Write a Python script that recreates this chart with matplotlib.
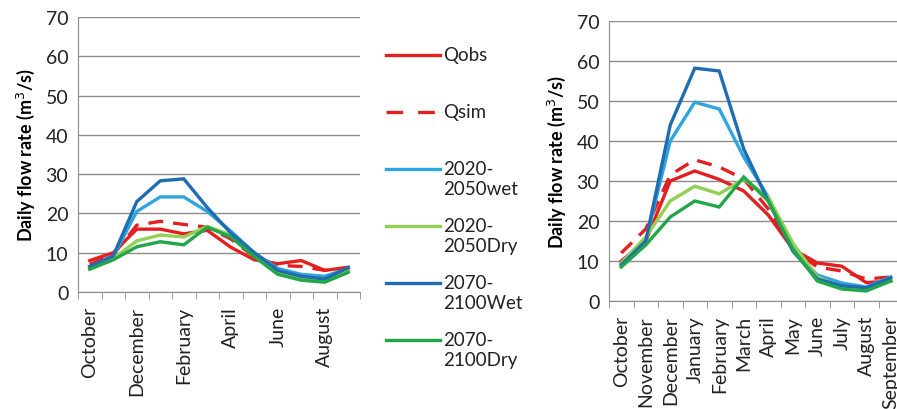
import numpy as np
import matplotlib
matplotlib.use("Agg")
import matplotlib.pyplot as plt
from matplotlib.lines import Line2D

plt.rcParams['font.family'] = ['Lato', 'DejaVu Sans']

# months of the hydrological year
months = ['October', 'November', 'December', 'January', 'February', 'March',
          'April', 'May', 'June', 'July', 'August', 'September']

# left panel
left_qobs = [8.0, 10.0, 16.0, 16.0, 14.8, 15.7, 11.4, 8.2, 7.2, 8.0, 5.5, 6.3]
left_qsim = [7.0, 9.5, 17.0, 18.0, 17.2, 16.5, 13.5, 9.0, 6.8, 6.5, 5.5, 6.0]
left_wet_2050 = [6.5, 9.0, 20.5, 24.2, 24.2, 20.5, 15.5, 10.0, 6.0, 4.5, 4.0, 6.0]
left_dry_2050 = [6.0, 8.5, 13.0, 14.5, 14.0, 16.7, 14.5, 9.5, 5.0, 3.5, 3.0, 5.5]
left_wet_2100 = [6.5, 9.2, 23.0, 28.3, 28.8, 21.5, 15.0, 10.0, 5.5, 4.0, 3.3, 6.2]
left_dry_2100 = [5.8, 8.2, 11.5, 12.8, 12.0, 16.5, 14.0, 9.0, 4.5, 3.0, 2.5, 5.0]

# right panel
right_qobs = [10.0, 15.0, 30.0, 32.5, 30.4, 27.5, 21.5, 13.0, 9.5, 8.7, 4.6, 5.0]
right_qsim = [12.0, 18.0, 31.5, 35.3, 33.5, 30.5, 23.0, 13.0, 8.5, 7.5, 5.5, 6.0]
right_wet_2050 = [9.5, 15.0, 40.0, 49.7, 48.0, 36.0, 26.0, 13.0, 6.5, 4.5, 3.5, 6.0]
right_dry_2050 = [9.5, 16.0, 25.0, 28.7, 26.8, 30.5, 26.0, 14.5, 6.0, 3.5, 3.0, 5.0]
right_wet_2100 = [9.0, 15.0, 44.0, 58.2, 57.5, 38.0, 25.0, 12.5, 5.5, 3.8, 3.3, 5.8]
right_dry_2100 = [8.5, 14.0, 21.0, 25.0, 23.5, 31.0, 25.0, 13.0, 5.0, 3.0, 2.5, 5.0]

labels = ['Qobs', 'Qsim', '2020-\n2050wet', '2020-\n2050Dry', '2070-\n2100Wet', '2070-\n2100Dry']
colors = ['#e3201f', '#e3201f', '#2ea5de', '#92cf55', '#1f6cb0', '#22a64a']
styles = ['-', (0, (4.5, 3)), '-', '-', '-', '-']
legend_styles = ['-', (0, (5, 4.5)), '-', '-', '-', '-']

grey = '#8c8c8c'


def draw_panel(ax, series, every):
    x = np.arange(len(months))
    for vals, c, ls in zip(series, colors, styles):
        ax.plot(x, vals, color=c, linestyle=ls, linewidth=2.4, solid_joinstyle='miter')
    ax.set_xlim(-0.5, len(months) - 0.5)
    ax.set_ylim(0, 70)
    ax.set_yticks(range(0, 71, 10))
    ax.grid(axis='y', color=grey, linewidth=1)
    ax.set_axisbelow(True)
    for s in ['top', 'right']:
        ax.spines[s].set_visible(False)
    for s in ['left', 'bottom']:
        ax.spines[s].set_color(grey)
    ax.tick_params(axis='y', length=0, labelsize=14, pad=7, labelcolor='#222222')
    ax.set_xticks(x[::every])
    ax.set_xticklabels(months[::every], rotation=90, fontsize=14, color='#222222')
    ax.set_xticks(np.arange(-0.5, len(months) + 0.5, 1), minor=True)
    ax.tick_params(axis='x', which='major', length=0, pad=10)
    ax.tick_params(axis='x', which='minor', length=5, color=grey, direction='out')
    ax.set_ylabel('Daily flow rate (m$^3$/s)', fontsize=13, fontweight='bold', labelpad=6)


fig = plt.figure(figsize=(8.97, 4.10), dpi=100)

ax1 = fig.add_axes([78 / 897, 1 - 293 / 410, 282 / 897, 275 / 410])
draw_panel(ax1, [left_qobs, left_qsim, left_wet_2050, left_dry_2050,
                 left_wet_2100, left_dry_2100], 2)

ax2 = fig.add_axes([609 / 897, 1 - 302 / 410, 294 / 897, 280 / 410])
draw_panel(ax2, [right_qobs, right_qsim, right_wet_2050, right_dry_2050,
                 right_wet_2100, right_dry_2100], 1)

# legend between the panels, handle aligned with the first text line
for i, (lab, c, ls) in enumerate(zip(labels, colors, legend_styles)):
    y = 1 - (56 + 57 * i) / 410
    fig.add_artist(Line2D([386 / 897, 440 / 897], [y, y], color=c, linestyle=ls,
                          linewidth=2.4, transform=fig.transFigure))
    fig.text(443 / 897, y + 9 / 410, lab, fontsize=13.5, va='top', ha='left',
             multialignment='left', linespacing=1.2, color='#222222')

fig.savefig('out.png', dpi=100)
